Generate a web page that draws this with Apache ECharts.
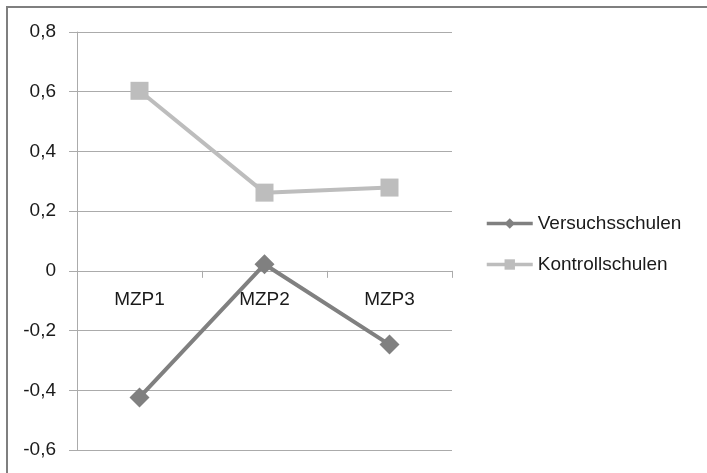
<!DOCTYPE html>
<html>
<head>
<meta charset="utf-8">
<style>
  html, body { margin: 0; padding: 0; background: #ffffff; }
  #chart { width: 707px; height: 473px; }
</style>
<script src="https://cdn.jsdelivr.net/npm/echarts@6/dist/echarts.min.js"></script>
</head>
<body>
<div id="chart"></div>
<script>
// Measurement points and group means
const categories = ['MZP1', 'MZP2', 'MZP3'];
const versuchsschulen = [-0.424, 0.022, -0.247];
const kontrollschulen = [0.603, 0.262, 0.279];
const seriesNames = ['Versuchsschulen', 'Kontrollschulen'];

// Value axis range
const yMin = -0.6;
const yMax = 0.8;
const yStep = 0.2;

const FONT = 'Liberation Sans';
const FONT_SIZE = 19;
const gridColor = '#ababab';
const textColor = '#1a1a1a';

function fmt(v) {
  const r = Math.round(v * 10) / 10;
  if (r === 0) return '0';
  return r.toFixed(1).replace('.', ',');
}

const chart = echarts.init(document.getElementById('chart'), null, { renderer: 'canvas' });

chart.setOption({
  backgroundColor: '#ffffff',
  animation: false,
  textStyle: { fontFamily: FONT },
  graphic: [{
    type: 'rect',
    shape: { x: 7, y: 7, width: 1000, height: 1000 },
    style: { fill: 'none', stroke: '#7f7f7f', lineWidth: 2 },
    silent: true
  }],
  grid: { left: 77, right: 255, top: 32, bottom: 23, containLabel: false, outerBoundsMode: 'none' },
  legend: {
    orient: 'vertical',
    left: 485,
    top: 214,
    padding: 0,
    itemWidth: 46,
    itemHeight: 13,
    itemGap: 22,
    lineStyle: { width: 3.5 },
    textStyle: { fontFamily: FONT, fontSize: FONT_SIZE, color: textColor },
    data: seriesNames
  },
  xAxis: {
    type: 'category',
    data: categories,
    boundaryGap: true,
    offset: 0,
    axisLine: { onZero: false, lineStyle: { color: gridColor, width: 1 } },
    axisTick: { show: true, length: 7, lineStyle: { color: gridColor } },
    axisLabel: { margin: 19, fontFamily: FONT, fontSize: FONT_SIZE, color: textColor },
    splitLine: { show: false }
  },
  yAxis: {
    type: 'value',
    min: yMin,
    max: yMax,
    interval: yStep,
    axisLine: { show: true, lineStyle: { color: gridColor, width: 1 } },
    axisTick: { show: true, length: 8, lineStyle: { color: gridColor } },
    axisLabel: { margin: 21, fontFamily: FONT, fontSize: FONT_SIZE, color: textColor, formatter: fmt },
    splitLine: { show: true, lineStyle: { color: gridColor, width: 1 } }
  },
  series: [
    {
      name: seriesNames[0],
      type: 'line',
      data: versuchsschulen,
      symbol: 'diamond',
      symbolSize: 20,
      lineStyle: { color: '#808080', width: 4 },
      itemStyle: { color: '#808080' },
      z: 3
    },
    {
      name: seriesNames[1],
      type: 'line',
      data: kontrollschulen,
      symbol: 'rect',
      symbolSize: 18,
      lineStyle: { color: '#bdbdbd', width: 4 },
      itemStyle: { color: '#bdbdbd' },
      z: 2
    }
  ]
});

// Move the category axis (line, ticks, labels) up to the value 0
const yZero = chart.convertToPixel({ yAxisIndex: 0 }, 0);
const yBottom = chart.convertToPixel({ yAxisIndex: 0 }, yMin);
chart.setOption({ xAxis: { offset: yZero - yBottom } });
</script>
</body>
</html>
